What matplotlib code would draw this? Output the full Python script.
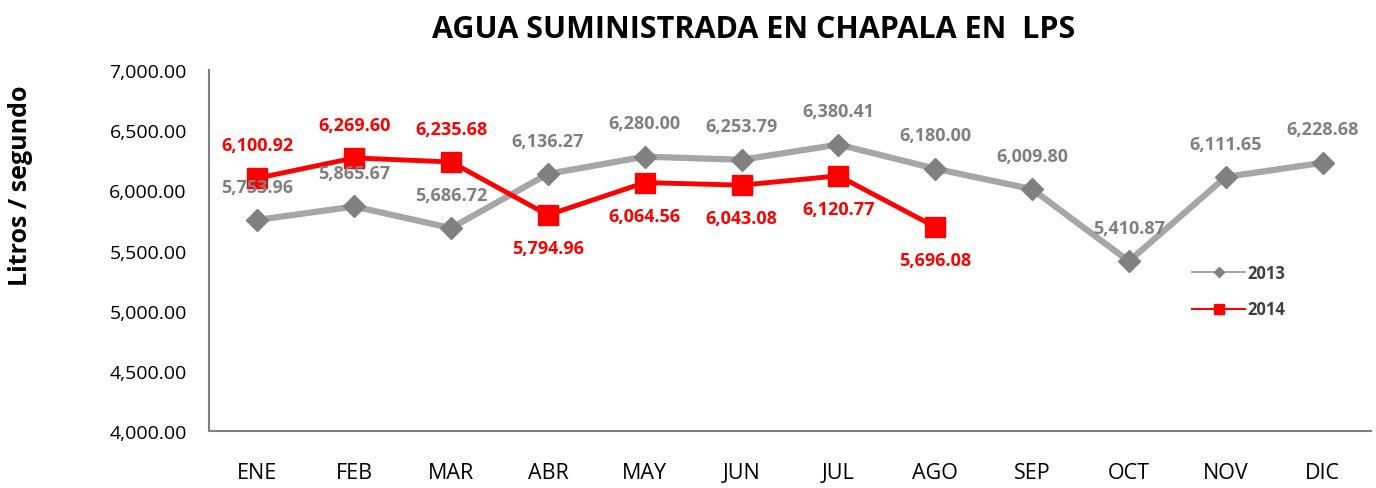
import matplotlib
matplotlib.use("Agg")
import matplotlib.pyplot as plt

plt.rcParams['font.family'] = ['Open Sans', 'DejaVu Sans']

months = ["ENE", "FEB", "MAR", "ABR", "MAY", "JUN", "JUL", "AGO", "SEP", "OCT", "NOV", "DIC"]
v2013 = [5753.96, 5865.67, 5686.72, 6136.27, 6280.00, 6253.79, 6380.41, 6180.00, 6009.80, 5410.87, 6111.65, 6228.68]
v2014 = [6100.92, 6269.60, 6235.68, 5794.96, 6064.56, 6043.08, 6120.77, 5696.08]
below2014 = [False, False, False, True, True, True, True, True]
yticks = [4000, 4500, 5000, 5500, 6000, 6500, 7000]

fig = plt.figure(figsize=(13.76, 4.89), dpi=100)
ax = fig.add_axes([209/1376, 1-432/489, (1371-209)/1376, (432-71)/489])

x13 = list(range(len(v2013)))
x14 = list(range(len(v2014)))
ax.plot(x13, v2013, color='#A6A6A6', lw=4.5, marker='D', ms=11,
        mfc='#808080', mec='#808080', label='2013', zorder=2)
ax.plot(x14, v2014, color='#FF0000', lw=3.5, marker='s', ms=15,
        mfc='#FF0000', mec='#FF0000', label='2014', zorder=3)

for xi, v in zip(x13, v2013):
    ax.annotate(f"{v:,.2f}", (xi, v), xytext=(0, 24), textcoords='offset points',
                ha='center', va='center', fontsize=13, fontweight='bold', color='#808080', zorder=4)
for xi, v, b in zip(x14, v2014, below2014):
    ax.annotate(f"{v:,.2f}", (xi, v), xytext=(0, -24 if b else 24), textcoords='offset points',
                ha='center', va='center', fontsize=13, fontweight='bold', color='#FF0000', zorder=5)

ax.set_xlim(-0.5, len(months) - 0.5)
ax.set_ylim(4000, 7000)
ax.set_xticks(x13)
ax.set_xticklabels(months, fontsize=15.5)
ax.set_yticks(yticks)
ax.set_yticklabels([f"{t:,.2f}" for t in yticks], fontsize=14)
ax.tick_params(length=0)
ax.tick_params(axis='x', pad=22)
ax.tick_params(axis='y', pad=16)
for s in ['top', 'right']:
    ax.spines[s].set_visible(False)
for s in ['left', 'bottom']:
    ax.spines[s].set_color('#808080')
    ax.spines[s].set_linewidth(1.5)

fig.text(21/1376, 1-186/489, "Litros / segundo", rotation=90, ha='center', va='center',
         fontsize=18, fontweight='bold')
fig.text(754/1376, 1-30/489, "AGUA SUMINISTRADA EN CHAPALA EN  LPS", ha='center', va='center',
         fontsize=22, fontweight='bold')

leg = ax.legend(loc='upper left', bbox_to_anchor=((1177-209)/(1371-209), 1-(250-71)/361),
                frameon=False, markerscale=0.5, handlelength=3.2, labelspacing=1.1,
                handletextpad=0.1, prop={'weight': 'bold', 'size': 12})
for line in leg.get_lines():
    line.set_linewidth(1.5)
for t in leg.get_texts():
    t.set_color('#404040')

fig.savefig("out.png", dpi=100)
